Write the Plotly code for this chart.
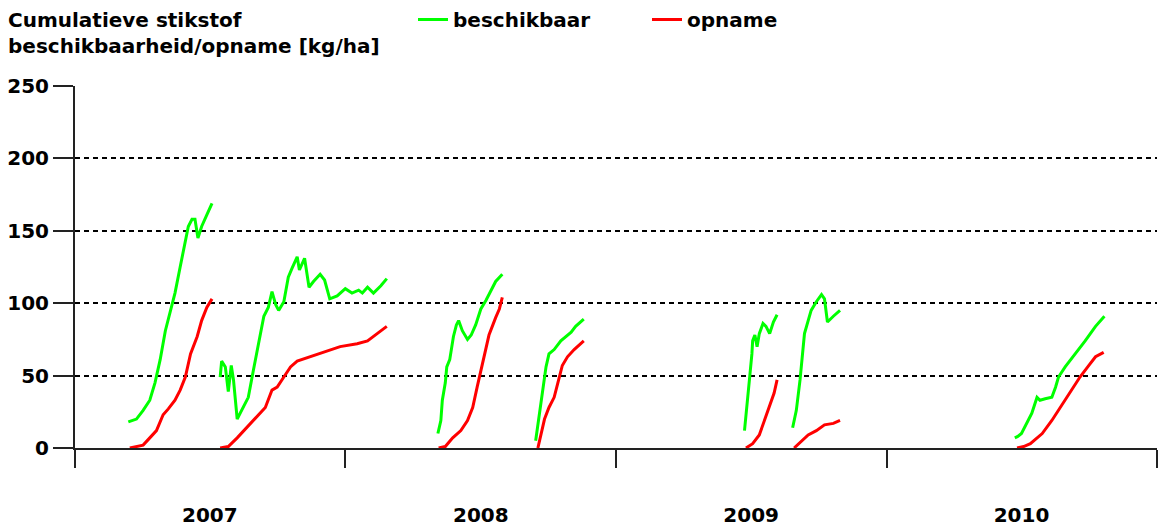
import pandas as pd
import plotly.graph_objects as go

# ---- data: days since 2007-01-01 and cumulative N (kg/ha) per growing period ----
avail_days_1 = [72, 83, 92, 101, 108, 115, 122, 128, 135, 142, 149, 153, 158, 162, 166, 171, 178, 185]
avail_vals_1 = [18, 20, 26, 33, 45, 61, 81, 93, 107, 125, 143, 153, 158, 158, 145, 153, 161, 169]
uptake_days_1 = [74, 92, 101, 110, 119, 126, 135, 142, 149, 156, 165, 171, 178, 185]
uptake_vals_1 = [0, 2, 7, 12, 23, 27, 33, 40, 49, 65, 77, 88, 97, 103]

avail_days_2 = [196, 198, 203, 207, 211, 214, 219, 225, 230, 234, 241, 248, 255, 261, 266, 271,
                275, 282, 288, 293, 300, 303, 310, 316, 322, 331, 337, 344, 354, 365, 374, 383,
                388, 395, 403, 413, 421]
avail_vals_2 = [49, 60, 56, 39, 57, 47, 20, 26, 32, 35, 54, 72, 91, 97, 108, 99,
                95, 101, 118, 124, 132, 123, 131, 111, 115, 120, 116, 103, 105, 110, 107, 109,
                107, 111, 107, 112, 117]
uptake_days_2 = [196, 207, 219, 232, 243, 257, 266, 273, 282, 291, 300, 318, 336, 358, 381, 395, 408, 421]
uptake_vals_2 = [0, 1, 7, 14, 20, 28, 40, 42, 49, 56, 60, 63, 66, 70, 72, 74, 79, 84]

avail_days_3 = [490, 494, 496, 500, 502, 506, 511, 515, 518, 523, 530, 535, 541, 548, 555, 561, 568, 577]
avail_vals_3 = [10, 19, 33, 45, 56, 61, 77, 85, 88, 81, 75, 78, 85, 96, 102, 108, 115, 120]
uptake_days_3 = [491, 500, 510, 521, 530, 537, 543, 550, 559, 568, 573, 577]
uptake_vals_3 = [0, 1, 7, 12, 19, 28, 42, 58, 78, 90, 96, 104]

avail_days_4 = [622, 627, 631, 636, 640, 647, 656, 670, 676, 687]
avail_vals_4 = [5, 24, 40, 56, 65, 68, 74, 80, 84, 89]
uptake_days_4 = [625, 629, 634, 640, 647, 652, 658, 665, 674, 687]
uptake_vals_4 = [0, 8, 20, 28, 35, 45, 57, 63, 68, 74]

avail_days_5 = [904, 908, 911, 914, 915, 918, 921, 924, 929, 933, 938, 943, 948]
avail_vals_5 = [12, 31, 49, 65, 74, 78, 70, 79, 86, 84, 79, 87, 92]
uptake_days_5 = [906, 915, 924, 931, 938, 944, 948]
uptake_vals_5 = [0, 3, 9, 19, 28, 38, 47]

avail_days_6 = [969, 974, 979, 982, 985, 990, 994, 1001, 1008, 1012, 1016, 1024, 1033]
avail_vals_6 = [14, 26, 47, 63, 79, 88, 95, 101, 106, 103, 87, 91, 95]
uptake_days_6 = [971, 979, 990, 1001, 1012, 1024, 1033]
uptake_vals_6 = [0, 4, 9, 12, 16, 17, 19]

avail_days_7 = [1269, 1273, 1278, 1285, 1292, 1299, 1303, 1310, 1319, 1324, 1328, 1337, 1351, 1364, 1378, 1390]
avail_vals_7 = [7, 8, 10, 17, 24, 35, 33, 34, 35, 42, 49, 56, 65, 74, 84, 91]
uptake_days_7 = [1272, 1281, 1290, 1306, 1319, 1333, 1346, 1357, 1369, 1378, 1389]
uptake_vals_7 = [0, 1, 3, 10, 19, 30, 40, 49, 57, 63, 66]

years = ["2007", "2008", "2009", "2010"]
y_ticks = [0, 50, 100, 150, 200, 250]
title_text = "Cumulatieve stikstof<br>beschikbaarheid/opname [kg/ha]"

avail_segments = [(avail_days_1, avail_vals_1), (avail_days_2, avail_vals_2), (avail_days_3, avail_vals_3),
                  (avail_days_4, avail_vals_4), (avail_days_5, avail_vals_5), (avail_days_6, avail_vals_6),
                  (avail_days_7, avail_vals_7)]
uptake_segments = [(uptake_days_1, uptake_vals_1), (uptake_days_2, uptake_vals_2), (uptake_days_3, uptake_vals_3),
                   (uptake_days_4, uptake_vals_4), (uptake_days_5, uptake_vals_5), (uptake_days_6, uptake_vals_6),
                   (uptake_days_7, uptake_vals_7)]

base = pd.Timestamp("2007-01-01")


def join(segments):
    xs, ys = [], []
    for d, v in segments:
        xs += [base + pd.Timedelta(days=float(k)) for k in d] + [None]
        ys += list(v) + [None]
    return xs, ys


W, H = 1159, 530
L, R, T, B = 75, 2, 86, 82
PW, PH = W - L - R, H - T - B

FONT = "DejaVu Sans"
BOLD = dict(family=FONT, size=20, color="black", weight="bold")

fig = go.Figure()
ax, ay = join(avail_segments)
ux, uy = join(uptake_segments)
fig.add_trace(go.Scatter(x=ax, y=ay, mode="lines", name="beschikbaar",
                         line=dict(color="#00ff00", width=3), connectgaps=False))
fig.add_trace(go.Scatter(x=ux, y=uy, mode="lines", name="opname",
                         line=dict(color="#ff0000", width=3), connectgaps=False))

year_starts = [f"{y}-01-01" for y in years] + ["2011-01-01"]
year_mids = [f"{y}-07-02" for y in years]

fig.add_annotation(text=title_text, xref="paper", yref="paper",
                   x=(6 - L) / PW, y=1 + (T - 6) / PH, xanchor="left", yanchor="top",
                   align="left", showarrow=False, font=BOLD)

fig.update_layout(
    width=W, height=H,
    margin=dict(l=L, r=R, t=T, b=B, autoexpand=False),
    paper_bgcolor="white", plot_bgcolor="white",
    font=BOLD,
    showlegend=True,
    legend=dict(orientation="h", xref="paper", yref="paper",
                x=(413 - L) / PW, y=1 + (T - 0) / PH, xanchor="left", yanchor="top",
                entrywidth=189, entrywidthmode="pixels",
                font=BOLD, bgcolor="rgba(0,0,0,0)"),
    xaxis=dict(type="date", range=["2007-01-01", "2011-01-01"],
               tickmode="array", tickvals=year_mids, ticktext=years,
               ticks="", ticklabelstandoff=48, automargin=False,
               showgrid=False, zeroline=False,
               showline=True, linecolor="#222", linewidth=2,
               minor=dict(tickmode="array", tickvals=year_starts, ticks="outside",
                          ticklen=18, tickwidth=1.5, tickcolor="#222", showgrid=False),
               tickfont=BOLD),
    yaxis=dict(range=[0, 250], tickmode="array", tickvals=y_ticks, automargin=False,
               ticks="outside", ticklen=20, tickwidth=1.5, tickcolor="#222",
               showgrid=True, gridcolor="black", gridwidth=2, griddash="5px,4px",
               zeroline=False, showline=True, linecolor="#222", linewidth=2,
               tickfont=BOLD),
)

fig.write_html("out.html", config={"displayModeBar": False},
               post_script="document.body.style.margin='0px';")
